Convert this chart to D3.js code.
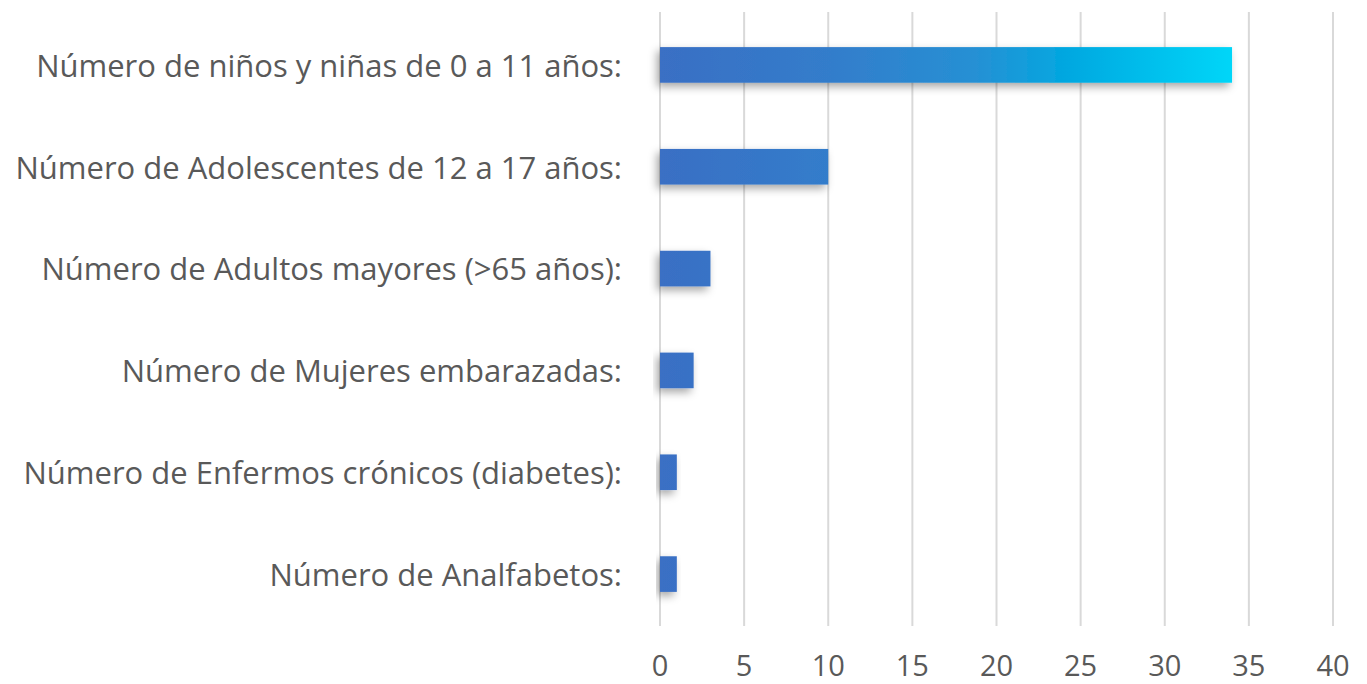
<!DOCTYPE html>
<html>
<head>
<meta charset="utf-8">
<script src="https://cdn.jsdelivr.net/npm/d3@7"></script>
<style>
  body { margin: 0; background: #fff; }
  text { font-family: "Open Sans", Lato, sans-serif; fill: #595959; }
</style>
</head>
<body>
<div id="chart"></div>
<script>
// categories top to bottom
var categories = [
  "Número de niños y niñas de 0 a 11 años:",
  "Número de Adolescentes de 12 a 17 años:",
  "Número de Adultos mayores (>65 años):",
  "Número de Mujeres embarazadas:",
  "Número de Enfermos crónicos (diabetes):",
  "Número de Analfabetos:"
];
var values = [34, 10, 3, 2, 1, 1];
var ticks = [0, 5, 10, 15, 20, 25, 30, 35, 40];

var width = 1367, height = 684;
var margin = {top: 14, right: 34, bottom: 59, left: 660};

var svg = d3.select("#chart").append("svg")
  .attr("width", width)
  .attr("height", height);

var x = d3.scaleLinear().domain([0, 40]).range([margin.left, width - margin.right]);
var y = d3.scaleBand().domain(categories).range([margin.top, height - margin.bottom]).paddingInner(0.65).paddingOuter(0.325);

var defs = svg.append("defs");
var grad = defs.append("linearGradient")
  .attr("id", "barGrad")
  .attr("gradientUnits", "userSpaceOnUse")
  .attr("x1", x(0)).attr("x2", x(34)).attr("y1", 0).attr("y2", 0);
grad.append("stop").attr("offset", "0").attr("stop-color", "#3a6fc4");
grad.append("stop").attr("offset", "0.3").attr("stop-color", "#337dcb");
grad.append("stop").attr("offset", "0.55").attr("stop-color", "#2690d4");
grad.append("stop").attr("offset", "0.72").attr("stop-color", "#00a9e1");
grad.append("stop").attr("offset", "1").attr("stop-color", "#00d6f8");

var shadow = defs.append("filter").attr("id", "shadow")
  .attr("x", "-20%").attr("y", "-30%").attr("width", "140%").attr("height", "180%");
shadow.append("feDropShadow")
  .attr("dx", -3).attr("dy", 4).attr("stdDeviation", 4)
  .attr("flood-color", "#000").attr("flood-opacity", 0.35);

// gridlines
svg.append("g").selectAll("line")
  .data(ticks)
  .enter().append("line")
    .attr("x1", function (d) { return x(d); })
    .attr("x2", function (d) { return x(d); })
    .attr("y1", 12)
    .attr("y2", 626)
    .attr("stroke", "#d9d9d9")
    .attr("stroke-width", 2);

// bars
svg.append("g").selectAll("rect")
  .data(values)
  .enter().append("rect")
    .attr("x", x(0))
    .attr("y", function (d, i) { return y(categories[i]); })
    .attr("width", function (d) { return x(d) - x(0); })
    .attr("height", y.bandwidth())
    .attr("fill", "url(#barGrad)")
    .attr("filter", "url(#shadow)");

// category labels
svg.append("g").selectAll("text")
  .data(categories)
  .enter().append("text")
    .attr("x", 622)
    .attr("y", function (d) { return y(d) + y.bandwidth() / 2; })
    .attr("dy", "0.38em")
    .attr("text-anchor", "end")
    .style("font-size", "31px")
    .text(function (d) { return d; });

// x tick labels
svg.append("g").selectAll("text")
  .data(ticks)
  .enter().append("text")
    .attr("x", function (d) { return x(d); })
    .attr("y", 676)
    .attr("text-anchor", "middle")
    .style("font-size", "29px")
    .text(function (d) { return d; });
</script>
</body>
</html>
